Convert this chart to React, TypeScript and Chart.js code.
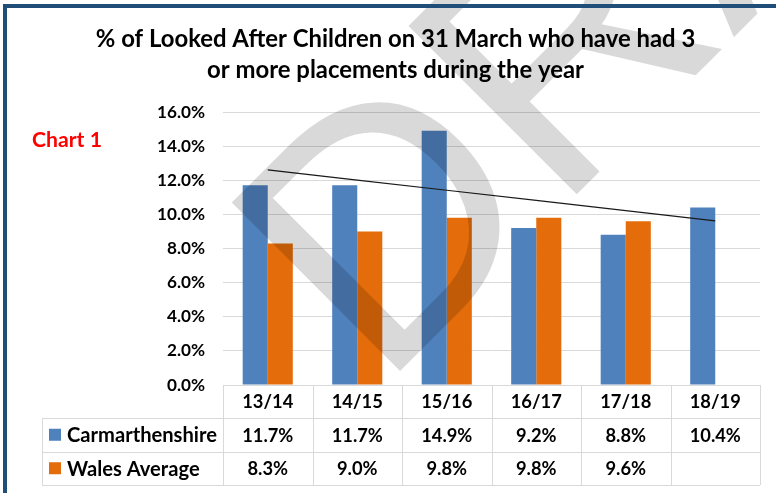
import React, { useEffect, useRef } from 'react';
import { Chart, registerables } from 'chart.js';

Chart.register(...registerables);

const categories = ['13/14', '14/15', '15/16', '16/17', '17/18', '18/19'];
const carmarthenshire: (number | null)[] = [11.7, 11.7, 14.9, 9.2, 8.8, 10.4];
const walesAverage: (number | null)[] = [8.3, 9.0, 9.8, 9.8, 9.6, null];
const seriesNames = ['Carmarthenshire', 'Wales Average'];
const seriesColors = ['#4f81bd', '#e46c0a'];
const titleLines = [
  '% of Looked After Children on 31 March who have had 3',
  'or more placements during the year',
];
const sideLabel = 'Chart 1';
const watermarkText = 'DRAFT';
const yMin = 0;
const yMax = 16;
const yStep = 2;

// Linear (least squares) trendline of the Carmarthenshire series, as Excel draws it
function linearTrend(values: (number | null)[]): (number | null)[] {
  const pts = values.map((v, i) => [i, v] as [number, number | null]).filter((p) => p[1] !== null) as [number, number][];
  const n = pts.length;
  const mx = pts.reduce((s, p) => s + p[0], 0) / n;
  const my = pts.reduce((s, p) => s + p[1], 0) / n;
  let sxy = 0;
  let sxx = 0;
  pts.forEach(([x, y]) => {
    sxy += (x - mx) * (y - my);
    sxx += (x - mx) * (x - mx);
  });
  const slope = sxy / sxx;
  return values.map((_, i) => my + slope * (i - mx));
}

const FAMILY = 'Lato, "Liberation Sans", sans-serif';

function fitSize(text: string, target: number, weight: string, family: string): number {
  const c = document.createElement('canvas').getContext('2d')!;
  c.font = `${weight} 100px ${family}`;
  return (100 * target) / c.measureText(text).width;
}

export default function App() {
  const ref = useRef<HTMLCanvasElement | null>(null);

  useEffect(() => {
    const canvas = ref.current;
    if (!canvas) return;

    const titleSize = fitSize(titleLines[0], 600, 'bold', FAMILY);
    const tickSize = fitSize('16.0%', 48, 'bold', FAMILY);
    const tableSize = fitSize('17/18', 51, 'bold', FAMILY);
    const labelSize = fitSize('Carmarthenshire', 150, 'bold', FAMILY);
    const sideSize = fitSize(sideLabel, 70, 'bold', FAMILY);

    const rowSeries = [carmarthenshire, walesAverage];

    const decor = {
      id: 'decor',
      beforeDraw(chart: any) {
        const { ctx } = chart;
        ctx.save();
        ctx.fillStyle = '#ffffff';
        ctx.fillRect(0, 0, chart.width, chart.height);
        ctx.restore();
      },
      afterDraw(chart: any) {
        const { ctx, chartArea } = chart;
        const xs = chart.scales.x;
        const colW = (chartArea.right - chartArea.left) / categories.length;
        const top = chartArea.bottom;
        const rowYs = [top, top + 33, top + 66.5, top + 100];
        const labelLeft = 42;

        ctx.save();
        // title
        ctx.fillStyle = '#000000';
        ctx.textAlign = 'center';
        ctx.textBaseline = 'alphabetic';
        ctx.font = `bold ${titleSize}px ${FAMILY}`;
        ctx.fillText(titleLines[0], 395.5, 47);
        ctx.fillText(titleLines[1], 395.5, 78);

        // side label
        ctx.fillStyle = '#ff0000';
        ctx.textAlign = 'left';
        ctx.font = `bold ${sideSize}px ${FAMILY}`;
        ctx.textBaseline = 'middle';
        ctx.fillText(sideLabel, 32, 140);

        // table grid
        ctx.strokeStyle = '#d9d9d9';
        ctx.lineWidth = 1;
        ctx.beginPath();
        ctx.moveTo(chartArea.left, Math.round(rowYs[0]) + 0.5);
        ctx.lineTo(chartArea.right, Math.round(rowYs[0]) + 0.5);
        for (let r = 1; r < rowYs.length; r++) {
          ctx.moveTo(labelLeft, Math.round(rowYs[r]) + 0.5);
          ctx.lineTo(chartArea.right, Math.round(rowYs[r]) + 0.5);
        }
        for (let i = 0; i <= categories.length; i++) {
          const x = Math.round(chartArea.left + i * colW) + 0.5;
          ctx.moveTo(x, rowYs[0]);
          ctx.lineTo(x, rowYs[3]);
        }
        ctx.moveTo(labelLeft + 0.5, rowYs[1]);
        ctx.lineTo(labelLeft + 0.5, rowYs[3]);
        ctx.stroke();

        // header & values
        ctx.fillStyle = '#000000';
        ctx.textAlign = 'center';
        ctx.textBaseline = 'middle';
        ctx.font = `bold ${tableSize}px ${FAMILY}`;
        categories.forEach((c, i) => {
          const cx = xs.getPixelForValue(i);
          ctx.fillText(c, cx, (rowYs[0] + rowYs[1]) / 2 + 1);
          rowSeries.forEach((s, r) => {
            const v = s[i];
            if (v !== null && v !== undefined) {
              ctx.fillText(v.toFixed(1) + '%', cx, (rowYs[r + 1] + rowYs[r + 2]) / 2 + 1);
            }
          });
        });

        // row labels with legend keys
        ctx.textAlign = 'left';
        ctx.font = `bold ${labelSize}px ${FAMILY}`;
        seriesNames.forEach((name, r) => {
          const cy = (rowYs[r + 1] + rowYs[r + 2]) / 2;
          ctx.fillStyle = seriesColors[r];
          ctx.fillRect(49, cy - 6, 12, 12);
          ctx.fillStyle = '#000000';
          ctx.fillText(name, 67, cy + 1);
        });

        // watermark
        ctx.save();
        ctx.translate(380, 391);
        ctx.rotate(-Math.PI / 4);
        ctx.fillStyle = 'rgba(0,0,0,0.15)';
        ctx.textAlign = 'left';
        ctx.textBaseline = 'alphabetic';
        ctx.font = `346px "Liberation Sans", sans-serif`;
        ctx.fillText(watermarkText, 0, 0);
        ctx.restore();

        // frame
        ctx.fillStyle = '#1f4e79';
        ctx.fillRect(3, 4, chart.width - 3, 4);
        ctx.fillRect(3, 4, 4, chart.height - 4);
        ctx.restore();
      },
    };

    const chart = new Chart(canvas, {
      type: 'bar',
      data: {
        labels: categories,
        datasets: [
          {
            type: 'line' as const,
            label: 'Linear (' + seriesNames[0] + ')',
            data: linearTrend(carmarthenshire),
            borderColor: '#1a1a1a',
            borderWidth: 1.2,
            pointRadius: 0,
            fill: false,
            order: 0,
          },
          {
            label: seriesNames[0],
            data: carmarthenshire,
            backgroundColor: seriesColors[0],
            order: 1,
          },
          {
            label: seriesNames[1],
            data: walesAverage,
            backgroundColor: seriesColors[1],
            order: 1,
          },
        ],
      } as any,
      options: {
        responsive: false,
        animation: false,
        devicePixelRatio: 1,
        layout: { padding: { top: 112, left: 0, right: 16, bottom: 108 } },
        datasets: { bar: { categoryPercentage: 0.56, barPercentage: 1 } },
        plugins: {
          legend: { display: false },
          title: { display: false },
          tooltip: { enabled: false },
        },
        scales: {
          x: { display: false },
          y: {
            min: yMin,
            max: yMax,
            afterFit: (scale: any) => {
              scale.width = 223;
            },
            border: { display: false },
            grid: { color: '#d9d9d9', drawTicks: false, lineWidth: 1 },
            ticks: {
              stepSize: yStep,
              padding: 18,
              color: '#000000',
              font: { family: FAMILY, weight: 'bold', size: tickSize },
              callback: (v: any) => Number(v).toFixed(1) + '%',
            },
          },
        },
      } as any,
      plugins: [decor],
    });

    return () => chart.destroy();
  }, []);

  return (
    <div style={{ position: 'fixed', left: 0, top: 0, width: 776, height: 493, background: '#fff' }}>
      <canvas ref={ref} width={776} height={493} style={{ display: 'block', width: 776, height: 493 }} />
    </div>
  );
}
